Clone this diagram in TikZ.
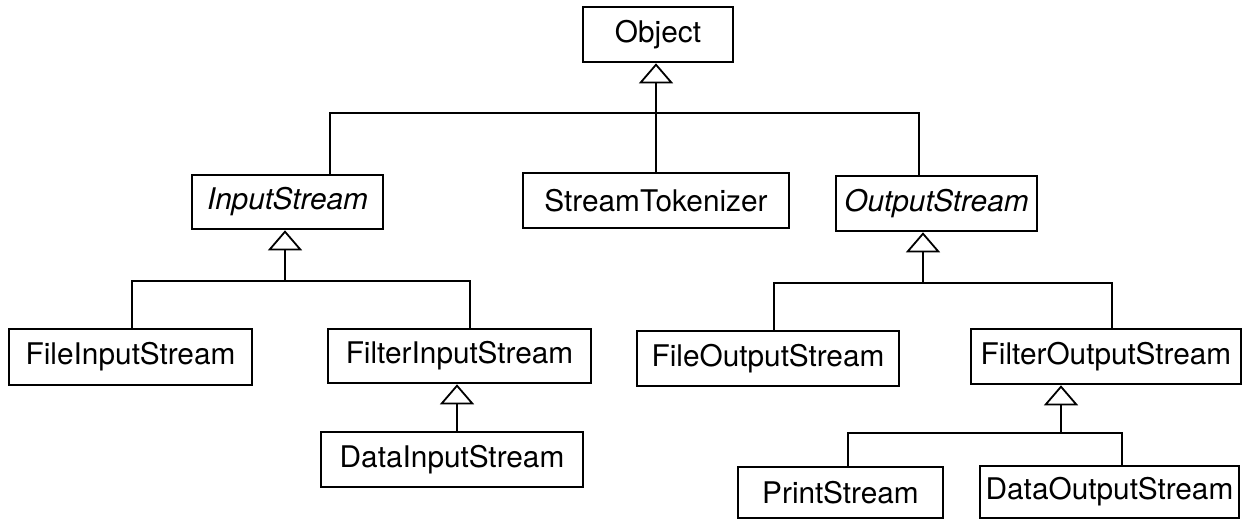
\documentclass[tikz,border=0pt]{standalone}
\usepackage{fontspec}
\setmainfont{TeX Gyre Heros}
\usetikzlibrary{arrows.meta}

\begin{document}
\begin{tikzpicture}[x=0.5pt,y=-0.5pt,
            cls/.style={draw,line width=1.3pt,inner sep=0pt,minimum height=27.5pt,font=\fontsize{14.9}{18}\selectfont},
            abscls/.style={cls,font=\fontsize{14.9}{18}\selectfont\itshape},
            tree/.style={line width=1.3pt},
            isa/.style={line width=1.2pt,-{Triangle[open,length=10pt,width=17pt,line width=0.9pt]}}]
            \fill[white] (0,0) rectangle (1248,520);
            \node[cls,minimum width=75pt] (Object) at (658,34.5) {Object};
            \node[abscls,minimum width=95.5pt,minimum height=27pt] (InputStream) at (287.5,202) {InputStream};
            \node[cls,minimum width=133pt] (StreamTokenizer) at (656,200.5) {StreamTokenizer};
            \node[abscls,minimum width=100.5pt] (OutputStream) at (936.5,203.5) {OutputStream};
            \node[cls,minimum width=121.5pt,minimum height=28pt] (FileInputStream) at (130.5,357) {FileInputStream};
            \node[cls,minimum width=131.5pt,minimum height=27pt] (FilterInputStream) at (459.5,356) {FilterInputStream};
            \node[cls,minimum width=131pt] (FileOutputStream) at (768,358.5) {FileOutputStream};
            \node[cls,minimum width=135pt] (FilterOutputStream) at (1106,356.5) {FilterOutputStream};
            \node[cls,minimum width=131pt] (DataInputStream) at (452,459.5) {DataInputStream};
            \node[cls,minimum width=102.5pt,minimum height=25.5pt] (PrintStream) at (840.5,492.5) {PrintStream};
            \node[cls,minimum width=129.5pt,minimum height=26pt] (DataOutputStream) at (1109.5,492) {DataOutputStream};
            \coordinate (objL) at (330,113);
            \coordinate (objR) at (919,113);
            \coordinate (inL) at (132,281);
            \coordinate (inM) at (285,281);
            \coordinate (inR) at (470,281);
            \coordinate (fiM) at (457,432);
            \coordinate (outL) at (774,283);
            \coordinate (outM) at (923,283);
            \coordinate (outR) at (1112,283);
            \coordinate (foL) at (848,433);
            \coordinate (foM) at (1061,433);
            \coordinate (foR) at (1122,433);
            \draw[isa] (StreamTokenizer.north) -- (StreamTokenizer.north |- Object.south);
            \draw[tree] (InputStream.north -| objL) |- (objR) -- (OutputStream.north -| objR);
            \draw[isa] (inM) -- (inM |- InputStream.south);
            \draw[tree] (FileInputStream.north -| inL) |- (inR) -- (FilterInputStream.north -| inR);
            \draw[isa] (DataInputStream.north -| fiM) -- (fiM |- FilterInputStream.south);
            \draw[isa] (outM) -- (outM |- OutputStream.south);
            \draw[tree] (FileOutputStream.north -| outL) |- (outR) -- (FilterOutputStream.north -| outR);
            \draw[isa] (foM) -- (foM |- FilterOutputStream.south);
            \draw[tree] (PrintStream.north -| foL) |- (foR) -- (DataOutputStream.north -| foR);
        \end{tikzpicture}
\end{document}
